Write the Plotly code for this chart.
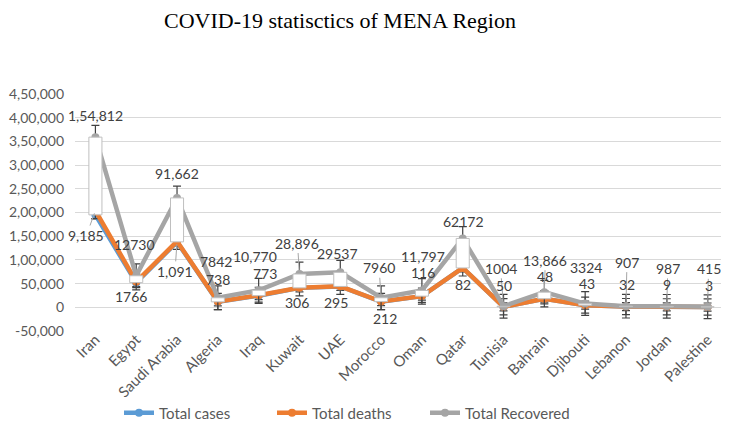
import plotly.graph_objects as go

countries = ["Iran", "Egypt", "Saudi Arabia", "Algeria", "Iraq", "Kuwait", "UAE", "Morocco",
             "Oman", "Qatar", "Tunisia", "Bahrain", "Djibouti", "Lebanon", "Jordan", "Palestine"]
total_cases = [195000, 52000, 138000, 11500, 24500, 41000, 44000, 12000,
               23500, 83000, 1100, 18000, 4500, 1500, 1000, 600]
total_deaths = [9185, 1766, 1091, 738, 773, 306, 295, 212, 116, 82, 50, 48, 43, 32, 9, 3]
total_recovered = [154812, 12730, 91662, 7842, 10770, 28896, 29537, 7960,
                   11797, 62172, 1004, 13866, 3324, 907, 987, 415]
deaths_text = ["9,185", "1766", "1,091", "738", "773", "306", "295", "212",
               "116", "82", "50", "48", "43", "32", "9", "3"]
recovered_text = ["1,54,812", "12730", "91,662", "7842", "10,770", "28,896", "29537", "7960",
                  "11,797", "62172", "1004", "13,866", "3324", "907", "987", "415"]
y_tickvals = [-50000, 0, 50000, 100000, 150000, 200000, 250000, 300000, 350000, 400000, 450000]
y_ticktext = ["-50,000", "0", "50,000", "1,00,000", "1,50,000", "2,00,000", "2,50,000",
              "3,00,000", "3,50,000", "4,00,000", "4,50,000"]

# stacked line values (Excel "stacked line" chart)
stack_deaths = [c + d for c, d in zip(total_cases, total_deaths)]
stack_recovered = [s + r for s, r in zip(stack_deaths, total_recovered)]

# label offsets in pixels (layout only)
rec_off = [(0, -22), (-2, -31), (0, -24), (-2, -36), (-4, -34), (-2, -31), (-3, -19), (-2, -30),
           (1, -34), (1, -17), (-3, -38), (1, -32), (1, -36), (1, -44), (1, -38), (1, -38)]
dea_off = [(-9, 25), (-5, 15), (-2, 30), (0, -22), (6, -22), (-2, 15), (-4, 16), (4, 17),
           (1, -24), (0, 17), (0, -21), (1, -22), (2, -22), (1, -22), (0, -22), (1, -22)]
rec_leader = [False, False, False, False, False, True, False, True,
              False, False, True, True, False, True, True, True]
dea_leader = [True, False, True, False, False, False, False, False,
              False, False, False, False, False, False, False, False]

BLUE, ORANGE, GRAY = "#5B9BD5", "#ED7D31", "#A5A5A5"
ERR = "#404040"
FONT = "Lato"

fig = go.Figure()

def add_line(name, yvals, color, err):
    fig.add_trace(go.Scatter(
        x=countries, y=yvals, name=name, mode="lines+markers",
        line=dict(color=color, width=4.5),
        marker=dict(color=color, size=8),
        error_y=dict(type="constant", value=err, symmetric=True, color=ERR,
                     thickness=1.2, width=4),
    ))

add_line("Total cases", total_cases, BLUE, 8500)
add_line("Total deaths", stack_deaths, ORANGE, 17000)
add_line("Total Recovered", stack_recovered, GRAY, 25000)

# up-down bars (white boxes between first and last series), drawn on top
fig.add_trace(go.Bar(
    x=countries, y=[g - c for g, c in zip(stack_recovered, total_cases)], base=total_cases,
    width=0.32, marker=dict(color="white", line=dict(color="#BFBFBF", width=1)),
    showlegend=False, hoverinfo="skip", xaxis="x2", yaxis="y",
))

annotations = []
def add_labels(texts, yvals, offs, leaders):
    for c, t, v, (dx, dy), ld in zip(countries, texts, yvals, offs, leaders):
        annotations.append(dict(
            x=c, y=v, xref="x", yref="y", text=t, ax=dx, ay=dy,
            showarrow=True, arrowhead=0, arrowwidth=1, standoff=3,
            arrowcolor="#A6A6A6" if ld else "rgba(0,0,0,0)",
            font=dict(family=FONT, size=14, color=ERR),
        ))

add_labels(recovered_text, stack_recovered, rec_off, rec_leader)
add_labels(deaths_text, stack_deaths, dea_off, dea_leader)

# chart title
annotations.append(dict(
    text="COVID-19 statisctics of MENA Region", xref="paper", yref="paper",
    x=(340 - 75) / 653, y=(323 - 12) / 237, xanchor="center", yanchor="middle",
    showarrow=False, font=dict(family="Liberation Serif", size=22, color="black"),
))

# the page body offsets the figure by 8px; margins are shifted to compensate
fig.update_layout(
    width=729, height=422,
    margin=dict(l=67, r=9, t=86, b=99, autoexpand=False),
    paper_bgcolor="white", plot_bgcolor="white",
    xaxis=dict(type="category", categoryorder="array", categoryarray=countries,
               range=[-0.5, 15.5], automargin=False,
               tickangle=-45, showgrid=False, showline=False, zeroline=False,
               ticklabelstandoff=-4,
               tickfont=dict(family=FONT, size=15, color="#595959")),
    xaxis2=dict(type="category", categoryorder="array", categoryarray=countries,
                overlaying="x", matches="x", visible=False),
    yaxis=dict(range=[-50000, 450000], tickvals=y_tickvals, ticktext=y_ticktext,
               showgrid=True, gridcolor="#D9D9D9", gridwidth=1, zeroline=False,
               showline=False, ticklabelstandoff=10, automargin=False,
               tickfont=dict(family=FONT, size=14, color="#595959")),
    legend=dict(orientation="h", x=(119 - 75) / 653, xanchor="left",
                y=(331 - 413) / 237, yanchor="middle",
                entrywidth=108, entrywidthmode="pixels",
                font=dict(family=FONT, size=15, color="#595959")),
    annotations=annotations,
    showlegend=True,
)

fig.write_html("out.html")
